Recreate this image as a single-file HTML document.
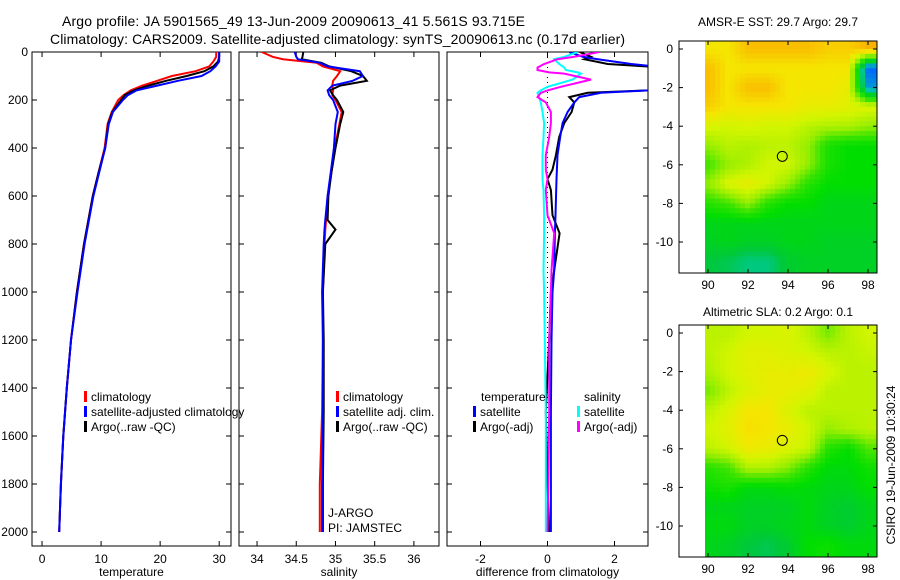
<!DOCTYPE html>
<html><head><meta charset="utf-8"><style>
html,body{margin:0;padding:0;background:#fff;}
svg{display:block;font-family:"Liberation Sans",sans-serif;}
</style></head><body>
<svg id="c" width="900" height="580" viewBox="0 0 900 580" xmlns="http://www.w3.org/2000/svg">
<rect width="900" height="580" fill="#fff"/>
<text x="62" y="26" font-size="14" textLength="463">Argo profile: JA 5901565_49 13-Jun-2009 20090613_41 5.561S 93.715E</text>
<text x="50" y="44" font-size="14" textLength="575">Climatology: CARS2009. Satellite-adjusted climatology: synTS_20090613.nc (0.17d earlier)</text>
<text x="778" y="26" font-size="12" text-anchor="middle">AMSR-E SST: 29.7 Argo: 29.7</text>
<text x="778" y="316" font-size="12" text-anchor="middle">Altimetric SLA: 0.2 Argo: 0.1</text>
<text x="0" y="0" font-size="12" text-anchor="middle" transform="translate(895,465) rotate(-90)">CSIRO 19-Jun-2009 10:30:24</text>
<g id="g"></g>
</svg>
<script>
// ---- profile data ----
const depthsT = [0,20,40,60,80,100,120,140,160,180,200,250,300,400,500,600,800,1000,1200,1400,1600,1800,2000];
const tempClim = [29.5,29.5,29,28.3,26,22,19.5,17,15,13.8,12.9,11.8,11.1,10.6,9.6,8.6,7.1,5.9,4.9,4.2,3.6,3.2,2.9];
const tempSat  = [30,30,30,29.4,28.5,27,23,19.5,16,14.5,13.7,12.0,11.3,10.7,9.7,8.7,7.2,6.0,4.9,4.2,3.6,3.2,2.9];
const tempArgo = [30,30,29.8,29,27.5,24.5,21,18,15.5,14,13.4,11.9,11.2,10.7,9.6,8.6,7.1,5.9,4.9,4.2,3.6,3.2,2.9];
const depthsS = [0,20,30,45,60,80,100,120,140,160,180,200,250,300,400,500,600,700,740,800,1000,1200,1500,1800,2000];
const salClim = [34.06,34.2,34.33,34.76,34.84,35.06,35.02,34.97,34.96,34.97,34.96,35.0,35.08,35.05,34.99,34.95,34.9,34.88,34.87,34.86,34.84,34.84,34.83,34.8,34.8];
const salSat  = [34.48,34.5,34.52,34.8,34.9,35.31,35.35,35.22,34.96,34.9,34.92,34.97,35.03,35.0,34.98,34.94,34.9,34.87,34.86,34.85,34.83,34.84,34.84,34.83,34.83];
const salArgo = [34.59,34.58,34.57,34.82,34.92,35.2,35.35,35.4,35.06,34.93,34.97,35.02,35.1,35.06,35.0,34.95,34.91,34.9,35.0,34.87,34.84,34.85,34.85,34.84,34.84];
const depthsD = [0,20,30,50,65,75,85,90,115,125,145,160,170,188,210,250,296,354,430,490,530,575,680,755,910,1000,1200,1500,1800,2000];
const dTempSat  = [0.65,1.05,1.5,2.5,3.5,4,4.5,4.5,4.5,4,3.5,3,1.6,0.95,0.8,0.6,0.45,0.38,0.3,0.28,0.27,0.26,0.24,0.22,0.2,0.15,0.12,0.1,0.1,0.1];
const dTempArgo = [0.96,1.3,1.1,1.8,3.5,4,4.5,4.5,4.5,4,3.5,3,1.2,0.65,0.8,0.72,0.5,0.35,0.25,0.15,0.0,0.1,0.15,0.36,0.2,0.1,0.05,-0.05,0.0,0.05];
const dSalSat  = [0.9,0.5,0.2,0.35,0.5,0.55,0.9,1.0,0.75,0.5,0.0,-0.2,-0.3,-0.25,-0.2,-0.15,-0.1,-0.12,-0.15,-0.15,-0.15,-0.12,-0.1,-0.1,-0.12,-0.1,-0.08,-0.05,-0.05,-0.05];
const dSalArgo = [1.55,0.8,0.3,-0.1,-0.3,-0.3,0.05,0.5,1.3,1.0,0.4,0.0,-0.2,-0.3,-0.05,0.1,0.1,0.05,-0.05,-0.05,0.0,-0.05,0.0,0.2,0.12,0.1,0.05,0.05,0.02,0.0];
const depthTicks = [0,200,400,600,800,1000,1200,1400,1600,1800,2000];
const tempTicks = [0,10,20,30];
const salTicks = [34,34.5,35,35.5,36];
const diffTicks = [-2,0,2];
// ---- map data (1-degree grid, lat 0..-11 rows, lon 90..98 cols) ----
const mapLons = [90,91,92,93,94,95,96,97,98];
const mapLats = [0,-1,-2,-3,-4,-5,-6,-7,-8,-9,-10,-11];
const sstGrid = [
[7,7,7.5,7.5,7.5,7.5,7.3,7.3,7.6],
[7.5,7,7,7,7,7,7,7,3],
[7.5,7,7.5,7.5,7,7,7,6.8,3.5],
[7.3,7,7,7,7,6.8,6.8,6.7,6.6],
[6.6,6.5,6.6,6.5,6.5,6.3,6.2,6.2,6],
[6,6.3,6.2,6.3,6.3,6,5.2,5,5],
[5.5,6,6.2,6.5,6.5,6,5.2,5,5],
[6,6.6,6.8,6.5,6,5.3,5,5,5],
[5.3,5.5,6,5.3,5,5,4.8,4.8,4.8],
[4.8,4.8,4.8,4.8,4.8,4.8,4.8,4.8,4.8],
[4.7,4.8,4.7,4.7,4.8,4.8,4.7,4.7,4.7],
[4.5,4.4,4.2,4.2,4.6,4.7,4.7,4.7,4.7]];
const slaGrid = [
[6.3,6.3,6.5,6.5,6.6,6.3,5.8,6.3,6.5],
[6.3,6.5,6.7,6.7,6.6,6.5,6.3,6.3,6.4],
[6.2,6.5,6.7,6.8,6.8,6.9,6.6,6.3,6.3],
[5.8,6.3,6.6,6.8,6.8,6.7,6.3,6.3,6.3],
[6.3,6.6,7.0,7.0,6.6,6.3,6.3,6.3,6.3],
[6.5,6.7,7.1,7.0,6.8,6.5,6.0,6.2,6.3],
[6.3,6.5,6.9,6.8,6.6,6.4,5.3,5.0,5.6],
[5.3,5.5,6.2,6.2,5.9,5.3,4.9,4.9,5.1],
[5.1,5.2,4.9,4.9,5.0,4.9,4.8,4.8,5.0],
[4.8,4.8,4.7,4.7,4.7,4.9,4.7,4.6,4.8],
[4.9,4.9,4.7,4.7,4.8,4.9,4.7,4.6,4.8],
[4.8,4.7,4.5,4.4,4.6,5.0,5.1,4.9,4.9]];
const argoLon = 93.715, argoLat = -5.561;
const mapLonTicks = [90,92,94,96,98];
const mapLatTicks = [0,-2,-4,-6,-8,-10];

const NS = 'http://www.w3.org/2000/svg';
const G = document.getElementById('g');
function mk(tag, at, parent){const e=document.createElementNS(NS,tag);for(const k in at)e.setAttribute(k,at[k]);(parent||G).appendChild(e);return e;}
function txt(x,y,s,anchor,size,name){const t=mk('text',{x:x,y:y,'font-size':size||12,'text-anchor':anchor||'middle'});t.textContent=s;


return t;}

const PT=52, PB=546, D0=52, D1=532;
const yD = d => D0 + (d/2000)*(D1-D0);
const panels = [
 {name:'temperature',x0:32,x1:231,v0:-1.7,v1:32.0,ticks:tempTicks,label:'temperature'},
 {name:'salinity',x0:239,x1:439,v0:33.77,v1:36.32,ticks:salTicks,label:'salinity'},
 {name:'difference',x0:447,x1:648,v0:-3.0,v1:3.0,ticks:diffTicks,label:'difference from climatology'}];
panels.forEach((p,i)=>{
  p.sx = v => p.x0 + (v-p.v0)/(p.v1-p.v0)*(p.x1-p.x0);
  const cp = mk('clipPath',{id:'cp'+i}); mk('rect',{x:p.x0,y:PT,width:p.x1-p.x0,height:PB-PT},cp);
  const fr = mk('rect',{x:p.x0,y:PT,width:p.x1-p.x0,height:PB-PT,fill:'none',stroke:'#000','stroke-width':1});
  
  
  p.ticks.forEach(v=>{const x=p.sx(v);
    mk('line',{x1:x,y1:PB,x2:x,y2:PB-5,stroke:'#000'});mk('line',{x1:x,y1:PT,x2:x,y2:PT+5,stroke:'#000'});
    txt(x,PB+17,String(v),'middle',12,p.name+'-x-tick-label');});
  depthTicks.forEach(d=>{const y=yD(d);
    mk('line',{x1:p.x0,y1:y,x2:p.x0+5,y2:y,stroke:'#000'});mk('line',{x1:p.x1,y1:y,x2:p.x1-5,y2:y,stroke:'#000'});
    if(i===0) txt(28,y+4,String(d),'end',12,'depth-tick-label');});
  txt((p.x0+p.x1)/2,PB+30,p.label,'middle',12,p.name+'-x-axis-title');
});
function prof(pi,depths,vals,color,name,w){
  const p=panels[pi];
  const pts=depths.map((d,k)=>p.sx(vals[k]).toFixed(1)+','+yD(d).toFixed(1)).join(' ');
  const e=mk('polyline',{points:pts,fill:'none',stroke:color,'stroke-width':w||2,'clip-path':'url(#cp'+pi+')'});
  
  
}
prof(0,depthsT,tempClim,'#ff0000','temperature-climatology-line');
prof(0,depthsT,tempArgo,'#000000','temperature-argo-line');
prof(0,depthsT,tempSat,'#0000ff','temperature-satellite-line');
prof(1,depthsS,salClim,'#ff0000','salinity-climatology-line');
prof(1,depthsS,salArgo,'#000000','salinity-argo-line');
prof(1,depthsS,salSat,'#0000ff','salinity-satellite-line');
{const x=panels[2].sx(0);const z=mk('line',{x1:x,y1:PT,x2:x,y2:PB-14,stroke:'#000','stroke-dasharray':'1,4'});

}
prof(2,depthsD,dTempArgo,'#000000','diff-temp-argo-line');
prof(2,depthsD,dTempSat,'#0000ff','diff-temp-satellite-line');
prof(2,depthsD,dSalSat,'#00ffff','diff-sal-satellite-line');
prof(2,depthsD,dSalArgo,'#ff00ff','diff-sal-argo-line');

function leg(x,y,color,label,name){
  if(color){const b=mk('rect',{x:x-7,y:y-10,width:3,height:11,fill:color});
    
    }
  txt(x,y,label,'start',12,name);
}
leg(91,401,'#ff0000','climatology','legend-temp-climatology');
leg(91,416,'#0000ff','satellite-adjusted climatology','legend-temp-satellite');
leg(91,431,'#000000','Argo(..raw -QC)','legend-temp-argo');
leg(343,401,'#ff0000','climatology','legend-sal-climatology');
leg(343,416,'#0000ff','satellite adj. clim.','legend-sal-satellite');
leg(343,431,'#000000','Argo(..raw -QC)','legend-sal-argo');
leg(481,401,null,'temperature','legend-diff-temperature-header');
leg(480,416,'#0000ff','satellite','legend-diff-temp-satellite');
leg(480,431,'#000000','Argo(-adj)','legend-diff-temp-argo');
leg(584,401,null,'salinity','legend-diff-salinity-header');
leg(584,416,'#00ffff','satellite','legend-diff-sal-satellite');
leg(584,431,'#ff00ff','Argo(-adj)','legend-diff-sal-argo');
txt(328,517,'J-ARGO','start',12,'data-centre-label');
txt(328,532,'PI: JAMSTEC','start',12,'pi-label');

// ---- maps ----
const cstops=[[3,[0,100,255]],[4,[0,200,170]],[4.5,[0,200,60]],[5,[0,222,0]],[5.5,[60,228,0]],[6,[150,238,0]],[6.5,[210,245,0]],[7,[245,230,0]],[7.5,[250,190,0]],[8,[240,130,0]]];
function cmap(v){if(v<=cstops[0][0])return cstops[0][1];for(let i=1;i<cstops.length;i++){if(v<=cstops[i][0]){const a=cstops[i-1],b=cstops[i],t=(v-a[0])/(b[0]-a[0]);return a[1].map((c,k)=>Math.round(c+(b[1][k]-c)*t));}}return cstops[cstops.length-1][1];}
function sample(grid,lon,lat){
  let fc=Math.max(0,Math.min(mapLons.length-1,(lon-mapLons[0])));
  let fr=Math.max(0,Math.min(mapLats.length-1,(mapLats[0]-lat)));
  const c0=Math.floor(fc),r0=Math.floor(fr),c1=Math.min(c0+1,mapLons.length-1),r1=Math.min(r0+1,mapLats.length-1);
  const tc=fc-c0,tr=fr-r0;
  return (grid[r0][c0]*(1-tc)+grid[r0][c1]*tc)*(1-tr)+(grid[r1][c0]*(1-tc)+grid[r1][c1]*tc)*tr;
}
function drawMap(grid,top,bottom,y0,name){
  const X0=679,X1=877;
  const lx=l=>708+(l-90)*20, ly=l=>y0+(-l)*19.3;
  const cid='mc'+name; const cp=mk('clipPath',{id:cid}); mk('rect',{x:X0,y:top,width:X1-X0,height:bottom-top},cp);
  const g=mk('g',{'clip-path':'url(#'+cid+')'});
  
  
  const step=0.25;
  for(let lat=0.5;lat>-11.75;lat-=step){
    for(let lon=89.85;lon<98.9;lon+=step){
      const v=sample(grid,lon+step/2,lat-step/2);const c=cmap(v);
      mk('rect',{x:lx(lon).toFixed(2),y:ly(lat).toFixed(2),width:(step*20+0.4).toFixed(2),height:(step*19.3+0.4).toFixed(2),fill:'rgb('+c.join(',')+')'},g);
    }
  }
  const land=mk('polygon',{points:[[98.55,-0.6],[98.9,-0.4],[98.9,-1.7],[98.6,-1.3]].map(p=>lx(p[0])+','+ly(p[1])).join(' '),fill:'#f5c8a0',stroke:'#000','stroke-width':0.8},g);
  
  
  const fr=mk('rect',{x:X0,y:top,width:X1-X0,height:bottom-top,fill:'none',stroke:'#000'});
  
  
  mapLonTicks.forEach(l=>{const x=lx(l);mk('line',{x1:x,y1:bottom,x2:x,y2:bottom-4,stroke:'#000'});mk('line',{x1:x,y1:top,x2:x,y2:top+4,stroke:'#000'});txt(x,bottom+16,String(l),'middle',12,name+'-lon-tick-label');});
  mapLatTicks.forEach(l=>{const y=ly(l);mk('line',{x1:X0,y1:y,x2:X0+4,y2:y,stroke:'#000'});mk('line',{x1:X1,y1:y,x2:X1-4,y2:y,stroke:'#000'});txt(673,y+4,String(l),'end',12,name+'-lat-tick-label');});
  const c=mk('circle',{cx:lx(argoLon),cy:ly(argoLat),r:5,fill:'none',stroke:'#000','stroke-width':1});
  
  
}
drawMap(sstGrid,41,273,49,'sst');
drawMap(slaGrid,325,557,333,'sla');
</script>
</body></html>
